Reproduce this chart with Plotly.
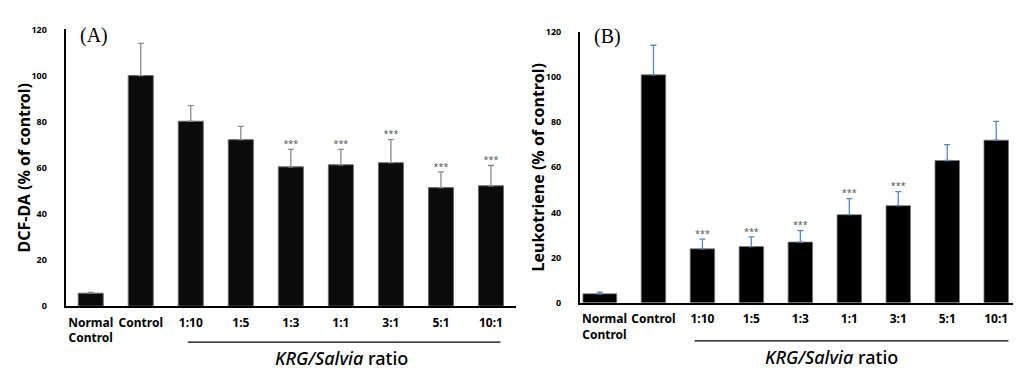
import plotly.graph_objects as go

categories = ["Normal<br>Control", "Control", "1:10", "1:5", "1:3", "1:1", "3:1", "5:1", "10:1"]
y_ticks = [0, 20, 40, 60, 80, 100, 120]

dcf_values = [5.6, 100, 80.2, 72.2, 60.4, 61.3, 62.2, 51.4, 52.2]
dcf_errors = [0.4, 14, 6.8, 5.8, 7.6, 6.7, 10.0, 6.8, 8.8]
dcf_sig = ["", "", "", "", "***", "***", "***", "***", "***"]

leuk_values = [4.0, 100.9, 23.9, 24.9, 26.9, 39.0, 43.0, 63.0, 72.0]
leuk_errors = [0.7, 13.1, 4.3, 4.3, 5.1, 7.1, 6.2, 7.0, 8.3]
leuk_sig = ["", "", "***", "***", "***", "***", "***", "", ""]

W, H = 1021, 371
FONT = "Noto Sans"

def px_x(p):
    return p / W

def px_y(p):
    return 1 - p / H

xs = list(range(len(categories)))

fig = go.Figure()

# Panel A
fig.add_trace(go.Bar(
    x=xs, y=dcf_values, xaxis="x", yaxis="y", width=0.5,
    marker=dict(color="#0b0b0b", line=dict(color="#6a6a6a", width=1)),
    error_y=dict(type="data", symmetric=False, array=dcf_errors,
                 arrayminus=[0] * len(dcf_errors), color="#8a8a8a",
                 thickness=1.3, width=3),
    showlegend=False, hoverinfo="skip"))
fig.add_trace(go.Scatter(
    x=xs, y=[v + e for v, e in zip(dcf_values, dcf_errors)], text=dcf_sig,
    mode="text", textposition="top center", xaxis="x", yaxis="y",
    textfont=dict(family=FONT, size=9, color="#555555"),
    showlegend=False, hoverinfo="skip"))

# Panel B
fig.add_trace(go.Bar(
    x=xs, y=leuk_values, xaxis="x2", yaxis="y2",
    width=[0.69] + [0.5] * (len(xs) - 1),
    offset=[-0.44] + [-0.25] * (len(xs) - 1),
    marker=dict(color="#000000", line=dict(color="#7a7a7a", width=0.8)),
    error_y=dict(type="data", symmetric=False, array=leuk_errors,
                 arrayminus=[0] * len(leuk_errors), color="#5b87c2",
                 thickness=1.3, width=3),
    showlegend=False, hoverinfo="skip"))
fig.add_trace(go.Scatter(
    x=xs, y=[v + e for v, e in zip(leuk_values, leuk_errors)], text=leuk_sig,
    mode="text", textposition="top center", xaxis="x2", yaxis="y2",
    textfont=dict(family=FONT, size=9, color="#555555"),
    showlegend=False, hoverinfo="skip"))

xaxis_common = dict(
    range=[-0.5, len(xs) - 0.5], tickmode="array", tickvals=xs, ticktext=categories,
    showline=True, linecolor="#000000", linewidth=2, ticks="", showgrid=False,
    zeroline=False, ticklabelstandoff=4,
    tickfont=dict(family=FONT, size=12, color="#000000", weight="bold"),
)
yaxis_common = dict(
    range=[0, 120], tickmode="array", tickvals=y_ticks,
    showline=True, linecolor="#000000", linewidth=2, ticks="", showgrid=False,
    zeroline=False, ticklabelstandoff=15,
    tickfont=dict(family=FONT, size=9, color="#000000", weight="bold"),
)

fig.update_layout(
    width=W, height=H, margin=dict(l=0, r=0, t=0, b=0),
    paper_bgcolor="white", plot_bgcolor="white", bargap=0.5,
    xaxis=dict(domain=[px_x(57.7), px_x(508)], anchor="y", **xaxis_common),
    yaxis=dict(domain=[px_y(301.7), px_y(15)], anchor="x", **yaxis_common),
    xaxis2=dict(domain=[px_x(572), px_x(1012.7)], anchor="y2", **xaxis_common),
    yaxis2=dict(domain=[px_y(298.3), px_y(17.3)], anchor="x2", **yaxis_common),
)

# Group underline
fig.add_shape(type="line", xref="x", yref="paper", x0=1.94, x1=8.19,
              y0=px_y(339), y1=px_y(339), line=dict(color="#000000", width=1.2))
fig.add_shape(type="line", xref="x2", yref="paper", x0=1.84, x1=8.25,
              y0=px_y(337.7), y1=px_y(337.7), line=dict(color="#000000", width=1.2))

annots = [
    dict(text="(A)", x=px_x(86), y=px_y(21), font=dict(family="Liberation Serif", size=20)),
    dict(text="(B)", x=px_x(599.5), y=px_y(22), font=dict(family="Liberation Serif", size=20)),
    dict(text="DCF-DA (% of control)", x=px_x(16), y=px_y(158), textangle=-90,
         font=dict(family=FONT, size=16, weight="bold")),
    dict(text="Leukotriene (% of control)", x=px_x(530), y=px_y(158), textangle=-90,
         font=dict(family=FONT, size=16, weight="bold")),
    dict(text="<i>KRG/Salvia</i> ratio", x=px_x(333), y=px_y(355),
         font=dict(family=FONT, size=18, weight=500)),
    dict(text="<i>KRG/Salvia</i> ratio", x=px_x(823), y=px_y(354),
         font=dict(family=FONT, size=18, weight=500)),
]
for a in annots:
    a["font"].setdefault("color", "#000000")
    fig.add_annotation(xref="paper", yref="paper", showarrow=False,
                       xanchor="center", yanchor="middle", **a)

fig.write_html("out.html")
